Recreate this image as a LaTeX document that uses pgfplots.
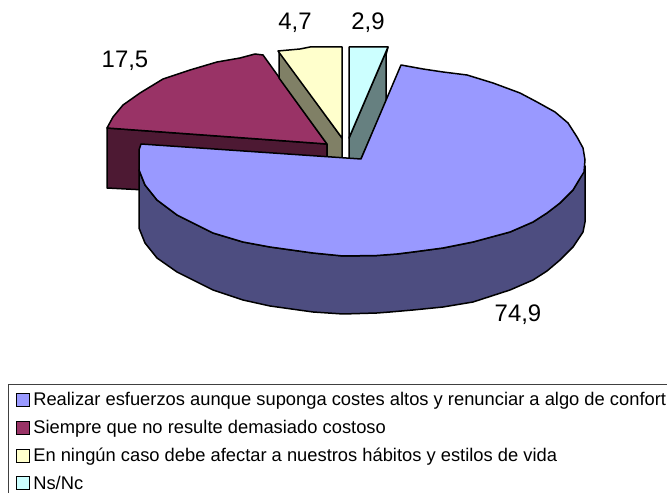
\documentclass[border=0pt]{standalone}
\usepackage{fontspec}
\setmainfont{Liberation Sans}
\usepackage{pgfplots}
\pgfplotsset{compat=1.18}
\definecolor{cblue}{HTML}{9999FF}
\definecolor{cred}{HTML}{993366}
\definecolor{cyel}{HTML}{FFFFCC}
\definecolor{ccya}{HTML}{CCFFFF}
\definecolor{dblue}{HTML}{4D4D80}
\definecolor{dred}{HTML}{4D1933}
\definecolor{dyel}{HTML}{808066}
\definecolor{dcya}{HTML}{668080}
\tikzset{pieface/.style={draw=black,line width=1.5bp,line join=round}}
\pgfplotsset{sq/.style={legend image code/.code={\draw[draw=black,line width=0.9bp,fill=#1] (0bp,-6.5bp) rectangle (13bp,6.5bp);}}}
\begin{document}
\begin{tikzpicture}[x=1bp,y=1bp]
\path[use as bounding box] (0,0) rectangle (667,493);
\begin{axis}[at={(0,0)},anchor=south west,scale only axis,width=667bp,height=493bp,
  xmin=0,xmax=667,ymin=0,ymax=493,y dir=reverse,hide axis,clip=false,
  legend style={at={(axis cs:8,384)},anchor=north west,draw=black!75,line width=0.8bp,
    font=\fontsize{18.4}{21}\selectfont,legend cell align=left,
    row sep=9bp,inner xsep=7.5bp,inner ysep=6bp,nodes={inner xsep=3.5bp,inner ysep=2bp}},
]
% legend entries
\addlegendimage{sq=cblue}\addlegendentry{Realizar esfuerzos aunque suponga costes altos y renunciar a algo de confort}
\addlegendimage{sq=cred}\addlegendentry{Siempre que no resulte demasiado costoso}
\addlegendimage{sq=cyel}\addlegendentry{En ningún caso debe afectar a nuestros hábitos y estilos de vida}
\addlegendimage{sq=ccya}\addlegendentry{Ns/Nc}
% red side
\addplot[pieface,fill=dred,forget plot] coordinates {(107,128)(327,144)(327,160)(145,160)(145,190)(107,188)} --cycle;
% red top
\addplot[pieface,fill=cred,forget plot] coordinates {(107,128)(113,117)(123,105)(140,93)(163,79)(190,70)(217,62)(240,58)(255,54)(263,55)(327,144)} --cycle;
% yellow side and top
\addplot[pieface,fill=dyel,forget plot] coordinates {(279,51)(342,138)(342,158)(327,158)(327,144)(279,78)} --cycle;
\addplot[pieface,fill=cyel,forget plot] coordinates {(278,51)(300,49)(310,47)(342,47)(342,138)} --cycle;
% cyan side and top
\addplot[pieface,fill=dcya,forget plot] coordinates {(388,47)(349,138)(349,159)(361,159)(386,102)(386,55)} --cycle;
\addplot[pieface,fill=ccya,forget plot] coordinates {(349,47)(388,47)(349,138)} --cycle;
% blue side
\addplot[pieface,fill=dblue,forget plot] coordinates {(139,170)(145,185)(157,200)(177,215)(197,225)(213,233)(243,242)(270,247)(313,253)(343,256)(377,255.5)(397,254)(413,252)(443,248)(473,242)(510,232)(533,222)(547,213)(560,203)(573,190)(579,180)(585,166)(585,222)(583,232)(573,247)(560,260)(547,271)(533,280)(510,290)(473,302)(443,307)(413,310)(390,312)(377,313)(343,314)(313,312)(270,306)(243,300)(213,290)(197,282)(177,272)(157,258)(145,243)(139,228)} --cycle;
% blue top
\addplot[pieface,fill=cblue,forget plot] coordinates {(361,159)(401,65)(423,69)(443,72)(467,75)(493,83)(520,93)(537,102)(555,112)(568,123)(577,137)(583,148)(585,160)(584,172)(579,180)(573,190)(560,203)(547,213)(533,222)(510,232)(473,242)(443,248)(413,252)(397,254)(377,255.5)(343,256)(313,253)(270,247)(243,242)(213,233)(197,225)(177,215)(157,200)(145,185)(139,170)(139,150)(141,144)} --cycle;
% value labels
\node[font=\fontsize{24}{27}\selectfont] at (axis cs:368,23) {2,9};
\node[font=\fontsize{24}{27}\selectfont] at (axis cs:295,23) {4,7};
\node[font=\fontsize{24}{27}\selectfont] at (axis cs:125,61) {17,5};
\node[font=\fontsize{24}{27}\selectfont] at (axis cs:518,315) {74,9};
\end{axis}
\end{tikzpicture}
\end{document}
